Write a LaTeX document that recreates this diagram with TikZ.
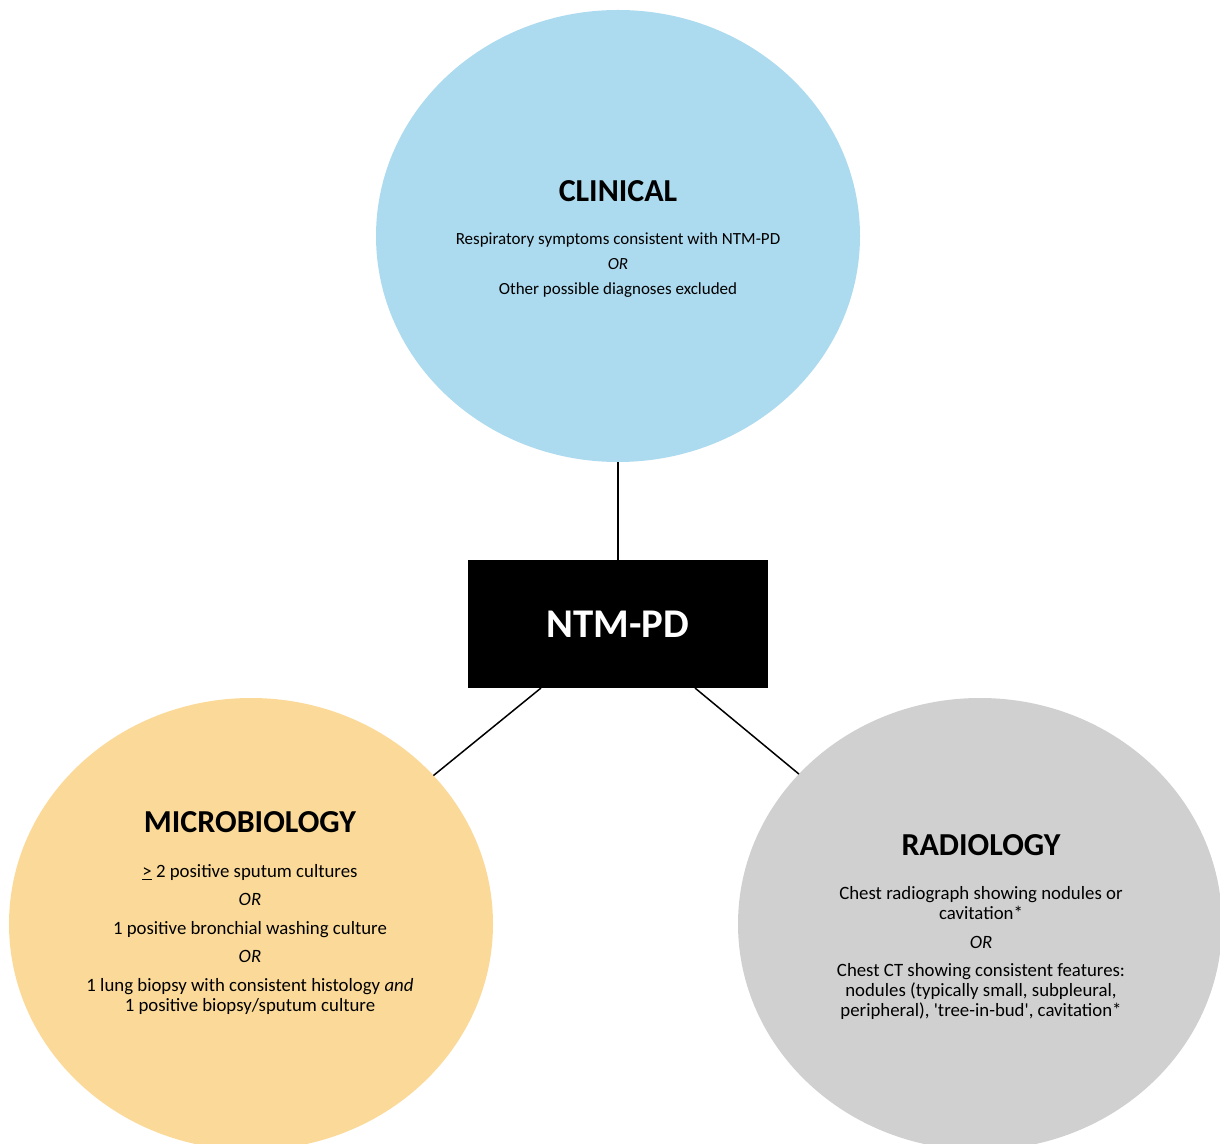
\documentclass[tikz,border=0pt]{standalone}
\usepackage{fontspec}
\setmainfont{Carlito}
\usetikzlibrary{shapes.geometric}
\definecolor{clinblue}{RGB}{172,218,238}
\definecolor{microgold}{RGB}{251,218,153}
\definecolor{radgrey}{RGB}{208,208,208}

\begin{document}
\begin{tikzpicture}[x=0.5pt,y=-0.5pt,
    blob/.style={ellipse, minimum width=242pt, minimum height=226pt, inner sep=0pt, outer sep=0pt},
    heading/.style={font=\bfseries\fontsize{16}{19}\selectfont, inner sep=0pt},
    crit/.style={align=center, font=\fontsize{9.4}{10}\selectfont, inner sep=0pt},
    link/.style={line width=0.75pt}]
\clip (0,0) rectangle (1220,1144);
% the three criteria
\node [blob, fill=clinblue] (clin) at (618,236) {};
\node [blob, fill=microgold] (micro) at (251,924) {};
\node [blob, fill=radgrey] (radio) at (980,924) {};
\node [fill=black, text=white, minimum width=150pt, minimum height=64pt, inner sep=0pt, outer sep=0pt,
       font=\bfseries\fontsize{20.4}{24}\selectfont] (ntm) at (618,624) {NTM-PD};
% links
\draw [link] (clin) -- (ntm);
\draw [link] ([xshift=-38.5pt]ntm.south) -- (micro);
\draw [link] ([xshift=38.5pt]ntm.south) -- (radio);
% texts
\node [heading] (clinhead) at (618,191) {CLINICAL};
\node [crit, font=\fontsize{8.5}{10}\selectfont] (clintext) at (618,265) {Respiratory symptoms consistent with NTM-PD\\[2.5pt]
    \textit{OR}\\[2.5pt]
    Other possible diagnoses excluded};
\node [heading] (microhead) at (250,822) {MICROBIOLOGY};
\node [crit] (microtext) at (250,939) {\underline{>} 2 positive sputum cultures\\[4.25pt]
    \textit{OR}\\[4.25pt]
    1 positive bronchial washing culture\\[4.25pt]
    \textit{OR}\\[4.25pt]
    1 lung biopsy with consistent histology \textit{and}\\
    1 positive biopsy/sputum culture};
\node [heading] (radiohead) at (981,845) {RADIOLOGY};
\node [crit] (radiotext) at (981,953) {Chest radiograph showing nodules or\\
    cavitation*\\[4.25pt]
    \textit{OR}\\[4.25pt]
    Chest CT showing consistent features:\\
    nodules (typically small, subpleural,\\
    peripheral), \textquotesingle tree-in-bud\textquotesingle, cavitation*};
\end{tikzpicture}
\end{document}
